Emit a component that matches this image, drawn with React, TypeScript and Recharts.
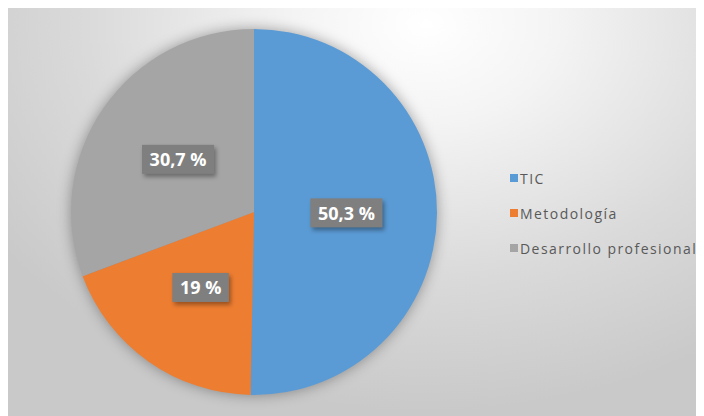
import React from "react";
import { PieChart, Pie, Cell, Legend } from "recharts";

const categories = ["TIC", "Metodología", "Desarrollo profesional"];
const values = [50.3, 19, 30.7];
const valueLabels = ["50,3 %", "19 %", "30,7 %"];
const colors = ["#5B9BD5", "#ED7D31", "#A5A5A5"];

const data = categories.map((name, i) => ({ name, value: values[i], label: valueLabels[i] }));

const RAD = Math.PI / 180;
const FONT = 18;

function charWidth(c: string): number {
  if (c >= "0" && c <= "9") return 0.572;
  if (c === ",") return 0.29;
  if (c === " ") return 0.26;
  if (c === "%") return 0.85;
  return 0.6;
}

const renderLabel = (props: any) => {
  const { cx, cy, midAngle, outerRadius, index } = props;
  const r = outerRadius * 0.505;
  const x = cx + r * Math.cos(-midAngle * RAD);
  const y = cy + r * Math.sin(-midAngle * RAD);
  const text = valueLabels[index];
  let w = 0;
  for (const c of text) w += charWidth(c) * FONT;
  const bw = w + 16;
  const bh = 29;
  return (
    <g key={`lbl-${index}`}>
      <rect
        x={x - bw / 2}
        y={y - bh / 2}
        width={bw}
        height={bh}
        fill="#7F7F7F"
        style={{ filter: "drop-shadow(2px 3px 2px rgba(0,0,0,0.35))" }}
      />
      <text
        x={x}
        y={y}
        textAnchor="middle"
        dominantBaseline="central"
        fill="#FFFFFF"
        fontFamily="'Open Sans', sans-serif"
        fontWeight={700}
        fontSize={FONT}
      >
        {text}
      </text>
    </g>
  );
};

const renderLegend = () => (
  <div style={{ position: "relative", width: 200, height: 110 }}>
    {categories.map((c, i) => (
      <div
        key={c}
        style={{
          position: "absolute",
          left: 0,
          top: i * 35,
          height: 18,
          display: "flex",
          alignItems: "center",
          fontFamily: "'Open Sans', sans-serif",
          fontSize: 14,
          letterSpacing: 1.45,
          color: "#595959",
          whiteSpace: "nowrap",
        }}
      >
        <span style={{ display: "inline-block", width: 8, height: 8, background: colors[i], marginRight: 2 }} />
        <span>{c}</span>
      </div>
    ))}
  </div>
);

export default function App() {
  return (
    <div
      style={{
        width: 696,
        height: 408,
        background:
          "radial-gradient(ellipse 75% 95% at 60% 4%, #ffffff 0%, #f4f4f4 25%, #dadada 65%, #c9c9c9 100%)",
        position: "relative",
      }}
    >
      <style>{`.recharts-pie > g:first-child{filter: drop-shadow(0 0 7px rgba(0,0,0,0.35));}`}</style>
      <PieChart width={696} height={408} margin={{ top: 0, right: 0, bottom: 0, left: 0 }}>
        <Pie
          data={data}
          dataKey="value"
          nameKey="name"
          cx={246}
          cy={204}
          outerRadius={183}
          startAngle={90}
          endAngle={-270}
          stroke="none"
          label={renderLabel}
          labelLine={false}
          isAnimationActive={false}
        >
          {data.map((d, i) => (
            <Cell key={d.name} fill={colors[i]} />
          ))}
        </Pie>
        <Legend
          content={renderLegend}
          wrapperStyle={{ left: 502, top: 161, width: 200 }}
        />
      </PieChart>
    </div>
  );
}
